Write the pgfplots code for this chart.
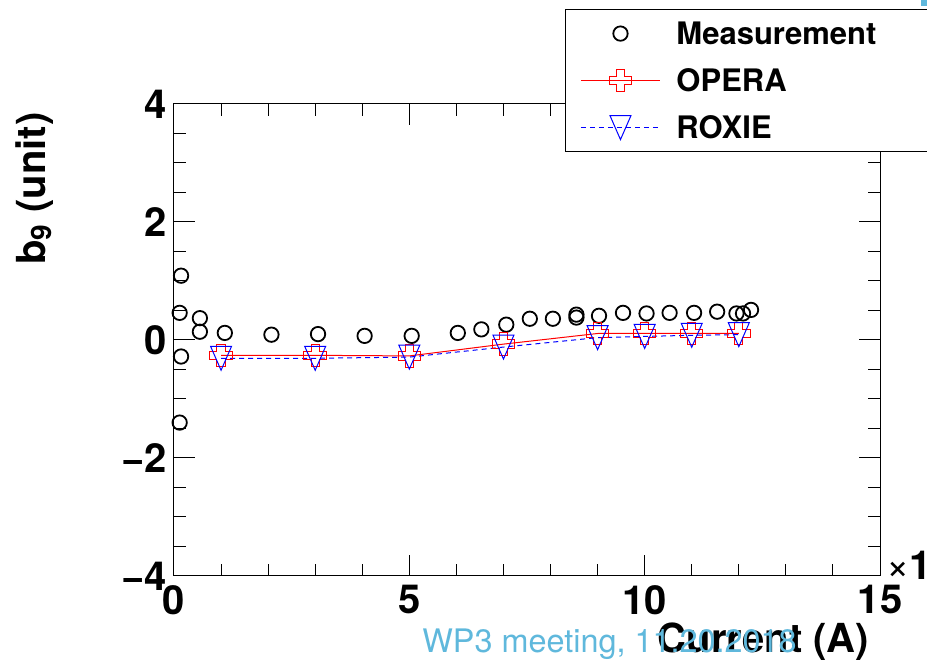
\documentclass[border=0pt]{standalone}
\usepackage{fontspec}
\setmainfont{TeX Gyre Heros}
\usepackage{pgfplots}
\pgfplotsset{compat=1.18}
\definecolor{wmblue}{RGB}{95,184,220}

\pgfdeclareplotmark{ocross}{%
  \pgfpathmoveto{\pgfpoint{-0.37\pgfplotmarksize}{\pgfplotmarksize}}%
  \pgfpathlineto{\pgfpoint{0.37\pgfplotmarksize}{\pgfplotmarksize}}%
  \pgfpathlineto{\pgfpoint{0.37\pgfplotmarksize}{0.37\pgfplotmarksize}}%
  \pgfpathlineto{\pgfpoint{\pgfplotmarksize}{0.37\pgfplotmarksize}}%
  \pgfpathlineto{\pgfpoint{\pgfplotmarksize}{-0.37\pgfplotmarksize}}%
  \pgfpathlineto{\pgfpoint{0.37\pgfplotmarksize}{-0.37\pgfplotmarksize}}%
  \pgfpathlineto{\pgfpoint{0.37\pgfplotmarksize}{-\pgfplotmarksize}}%
  \pgfpathlineto{\pgfpoint{-0.37\pgfplotmarksize}{-\pgfplotmarksize}}%
  \pgfpathlineto{\pgfpoint{-0.37\pgfplotmarksize}{-0.37\pgfplotmarksize}}%
  \pgfpathlineto{\pgfpoint{-\pgfplotmarksize}{-0.37\pgfplotmarksize}}%
  \pgfpathlineto{\pgfpoint{-\pgfplotmarksize}{0.37\pgfplotmarksize}}%
  \pgfpathlineto{\pgfpoint{-0.37\pgfplotmarksize}{0.37\pgfplotmarksize}}%
  \pgfpathclose
  \pgfusepathqstroke
}
\pgfdeclareplotmark{otridown}{%
  \pgfpathmoveto{\pgfpoint{-0.875\pgfplotmarksize}{\pgfplotmarksize}}%
  \pgfpathlineto{\pgfpoint{0.875\pgfplotmarksize}{\pgfplotmarksize}}%
  \pgfpathlineto{\pgfpoint{0pt}{-\pgfplotmarksize}}%
  \pgfpathclose
  \pgfusepathqstroke
}

\begin{document}
\begin{tikzpicture}
\useasboundingbox (-87pt,-45.5pt) rectangle (376.5pt,288pt);
\clip (-87pt,-45.5pt) rectangle (380pt,288pt);
\begin{axis}[
  name=ax,
  at={(0pt,0pt)}, anchor=south west,
  scale only axis, width=353pt, height=236pt,
  xmin=0, xmax=15, ymin=-4, ymax=4,
  clip=false,
  axis line style={line width=0.5pt},
  tick style={black, line width=0.5pt},
  tick align=inside,
  xtick pos=both, ytick pos=both,
  major tick length=10.5pt, minor tick length=6pt,
  xtick={0,5,10,15}, xticklabels={0,5,10,15},
  minor x tick num=4,
  ytick={-4,-2,0,2,4}, yticklabels={−4,−2,0,2,4},
  minor y tick num=3,
  tick label style={font=\fontsize{20}{24}\selectfont\bfseries},
  xticklabel style={inner sep=0pt, yshift=-4.5pt},
  yticklabel style={inner sep=0pt, xshift=-3.25pt},
  xlabel={Current (A)},
  ylabel={b\textsubscript{9} (unit)},
  every axis x label/.style={at={(axis description cs:0.985,-0.1631)}, anchor=base east, inner sep=0pt, font=\fontsize{20}{24}\selectfont\bfseries},
  every axis y label/.style={at={(axis description cs:-0.1827,0.983)}, rotate=90, anchor=base east, inner sep=0pt, font=\fontsize{20}{24}\selectfont\bfseries},
  legend style={at={(axis description cs:0.5538,1.2013)}, anchor=north west,
    line width=0.5pt, fill=white,
    inner xsep=7.5pt, inner ysep=0.3pt, column sep=8pt, row sep=0pt,
    font=\fontsize{15.5}{18}\selectfont\bfseries,
    nodes={inner xsep=0pt, inner ysep=6.15pt, text height=11.2pt, text depth=0pt}},
  legend cell align=left,
  legend image code/.code={\draw[mark repeat=2,mark phase=2,#1] plot coordinates {(0pt,0pt) (19.75pt,0pt) (39.5pt,0pt)};},
]
\addplot[only marks, mark=o, mark size=3.6pt, black, draw=black, mark options={line width=0.9pt}] coordinates {
 (0.15,1.09) (0.12,0.46) (0.15,-0.28) (0.12,-1.40) (0.55,0.37) (0.55,0.14)
 (1.08,0.12) (2.07,0.09) (3.06,0.10) (4.05,0.07) (5.05,0.07) (6.03,0.12)
 (6.53,0.18) (7.06,0.26) (7.56,0.36) (8.05,0.36) (8.55,0.43) (8.55,0.38)
 (9.03,0.41) (9.54,0.46) (10.04,0.45) (10.53,0.46) (11.05,0.46) (11.54,0.48)
 (11.95,0.45) (12.09,0.45) (12.26,0.51)
};
\addlegendentry{Measurement\hspace*{50pt}}
\addplot[red, draw=red, line width=0.5pt, mark=ocross, mark size=5.6pt, mark options={solid, draw=red, line width=0.5pt}] coordinates {
 (1,-0.26) (3,-0.26) (5,-0.27) (7,-0.07) (9,0.11) (10,0.11) (11,0.11) (12,0.11)
};
\addlegendentry{OPERA}
\addplot[blue, draw=blue, line width=0.5pt, dash pattern=on 2.5pt off 2pt, mark=otridown, mark size=6pt, mark options={solid, draw=blue, line width=0.5pt}] coordinates {
 (1,-0.31) (3,-0.31) (5,-0.29) (7,-0.12) (9,0.04) (10,0.06) (11,0.08) (12,0.09)
};
\addlegendentry{ROXIE}
\end{axis}
\node[anchor=base west, inner sep=0pt, font=\fontsize{20}{24}\selectfont] at (356pt,-2pt) {×\textbf{10}\textsuperscript{\textbf{3}}};
\node[anchor=base west, inner sep=0pt, text=wmblue, font=\fontsize{16.2}{19}\selectfont] at (124pt,-38.5pt) {WP3 meeting, 11.20.2018};
\fill[wmblue] (373.5pt,288pt) rectangle (377pt,285pt);
\end{tikzpicture}
\end{document}
